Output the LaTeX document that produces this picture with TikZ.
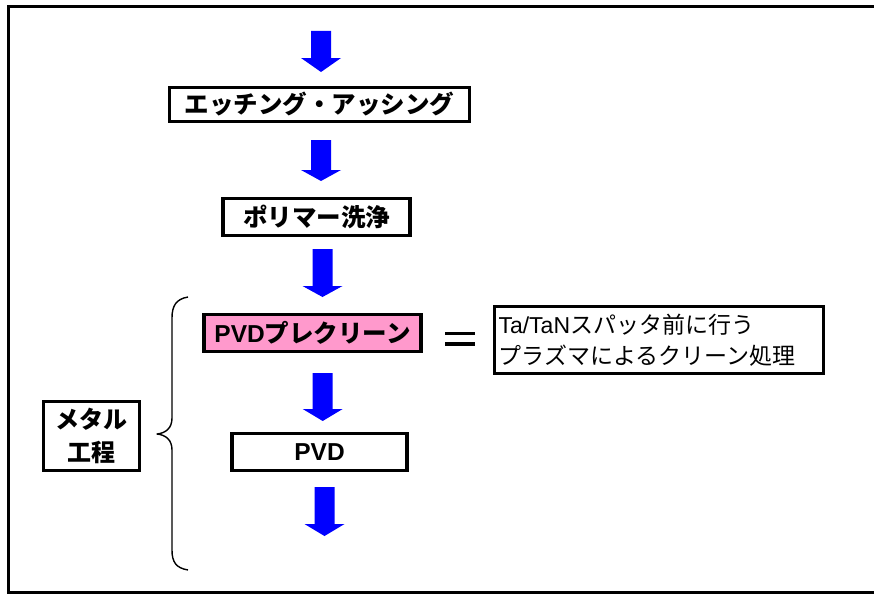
\documentclass[tikz,border=0pt]{standalone}
\usepackage{fontspec}
\setmainfont{Noto Sans CJK JP}
\newfontfamily\lat{Liberation Sans}
\definecolor{arrowblue}{RGB}{0,0,255}
\definecolor{pinkfill}{RGB}{255,153,204}
\tikzset{
  stepbox/.style={draw=black, line width=3.3pt, fill=white, inner sep=0pt,
    font=\fontsize{24.5}{28}\selectfont\bfseries, align=center},
  notebox/.style={draw=black, line width=2.8pt, fill=white, inner sep=0pt},
  bluearrow/.style={fill=arrowblue, draw=none},
  bracestyle/.style={draw=black, line width=1.4pt, line join=round},
}
% block arrow: x center, y top, y head start, y tip
\newcommand{\blockarrow}[4]{%
  \fill[bluearrow] (#1-10,#2) -- (#1+10,#2) -- (#1+10,#3) -- (#1+20,#3)
    -- (#1,#4) -- (#1-20,#3) -- (#1-10,#3) -- cycle;}
\begin{document}
\begin{tikzpicture}[x=1pt,y=-1pt]
\useasboundingbox (0,0) rectangle (874,594);
\fill[white] (0,0) rectangle (874,594);
% outer frame (open on the right)
\draw[line width=3pt] (874,6.5) -- (8.5,6.5) -- (8.5,592) -- (874,592);

% steps
\node[stepbox, minimum width=300pt, minimum height=34pt] (etch) at (319.5,104.5)
  {エッチング・アッシング};
\node[stepbox, minimum width=187pt, minimum height=36.5pt] (poly) at (316.5,217)
  {ポリマー洗浄};
\node[stepbox, fill=pinkfill, minimum width=217pt, minimum height=36.5pt] (pre) at (312.5,333)
  {{\lat\bfseries PVD}プレクリーン};
\node[stepbox, minimum width=175pt, minimum height=36.5pt] (pvd) at (319.5,452)
  {{\lat\bfseries PVD}};

% arrows
\blockarrow{321}{31}{58}{72}
\blockarrow{321}{140}{170}{181}
\blockarrow{322.5}{249}{286}{297}
\blockarrow{322.7}{373}{409}{421}
\blockarrow{324.5}{487}{524}{536}

% metal process label
\node[notebox, minimum width=96pt, minimum height=69pt, align=center,
  font=\fontsize{24}{33}\selectfont\bfseries] (metal) at (91.5,436) {メタル\\工程};

% brace
\coordinate (btop) at (188,297);
\coordinate (btip) at (157,434);
\coordinate (bbot) at (188,570);
\draw[bracestyle] (btop) .. controls (176,299) and (172,306) .. (172,318)
  -- (172,418) .. controls (172,428) and (166,433) .. (btip)
  .. controls (166,435) and (172,440) .. (172,450)
  -- (172,550) .. controls (172,562) and (176,568) .. (bbot);

% equals
\draw[line width=3.4pt] (445,333.5) -- (475,333.5);
\draw[line width=3.4pt] (445,344) -- (475,344);

% description
\node[notebox, minimum width=329pt, minimum height=67pt, text width=321pt,
  inner xsep=4pt, align=left, font=\fontsize{23}{31}\selectfont] (desc) at (659,340)
  {{\lat Ta/TaN}スパッタ前に行う\\プラズマによるクリーン処理};
\end{tikzpicture}
\end{document}
